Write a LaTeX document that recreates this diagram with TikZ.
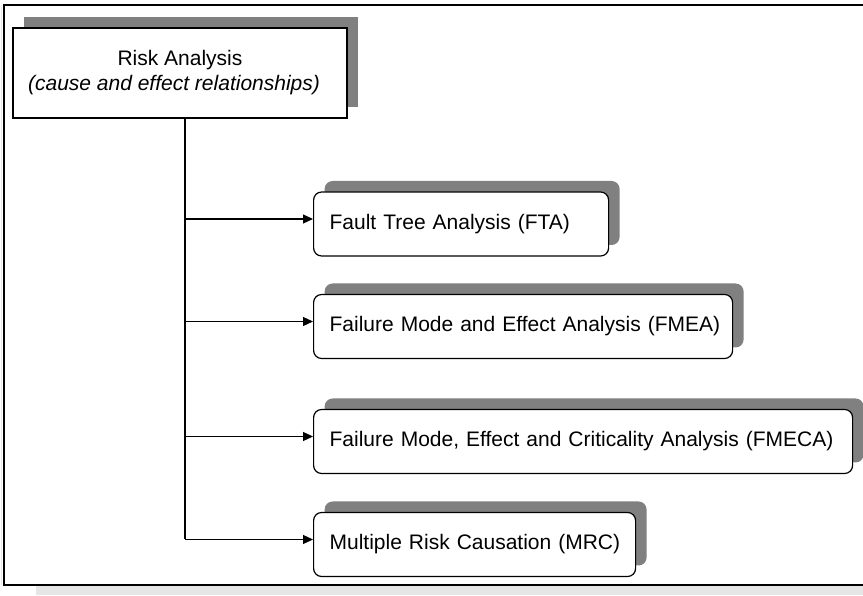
\documentclass[tikz,border=0pt]{standalone}
\usepackage{fontspec}
\setmainfont{Liberation Sans}
\usetikzlibrary{arrows.meta,shadows}
\definecolor{shadowgray}{HTML}{808080}
\definecolor{stripgray}{HTML}{E6E6E6}
\begin{document}
\begin{tikzpicture}[x=1pt,y=1pt,
  font=\fontsize{21}{25}\selectfont,
  boxshadow/.style={drop shadow={shadow xshift=11pt,shadow yshift=11pt,
      shadow scale=1,fill=shadowgray,opacity=1}},
  rootbox/.style={draw,line width=1.2pt,fill=white,minimum width=334pt,
      minimum height=90pt,align=center,inner sep=0pt,boxshadow},
  method/.style={draw,line width=1.2pt,fill=white,rounded corners=8pt,
      minimum height=64pt,anchor=west,inner xsep=16pt,inner ysep=0pt,
      align=left,boxshadow},
  link/.style={line width=1.2pt,-{Triangle[length=10pt,width=9pt]}},
  trunk/.style={line width=1.2pt}]
\useasboundingbox (0,0) rectangle (863,595);

% page frame and its soft edge
\fill[stripgray] (36,0) rectangle (863,9);
\draw[stripgray,line width=1pt] (1.5,590) -- (1.5,10);
\draw[line width=1.2pt] (863,590) -- (4,590) -- (4,10) -- (863,10);

% root box
\node[rootbox] (root) at (180,522)
  {Risk Analysis\\ \textit{(cause and effect relationships)}\hspace*{12pt}};

% analysis methods
\node[method,text width=263pt] (fta)   at (313,371)   {\mbox{Fault Tree Analysis (FTA)}};
\node[method,text width=387pt] (fmea)  at (313,268.5) {\mbox{Failure Mode and Effect Analysis (FMEA)}};
\node[method,text width=507pt] (fmeca) at (313,153.5) {\mbox{Failure Mode, Effect and Criticality Analysis (FMECA)}};
\node[method,text width=290pt] (mrc)   at (313,50.5)  {\mbox{Multiple Risk Causation (MRC)}};

% trunk and branches
\coordinate (tr) at (185,0);
\draw[trunk] (root.south -| tr) -- ([yshift=5pt]mrc.west -| tr);
\draw[link] ([yshift=5pt]fta.west -| tr)   -- ([yshift=5pt]fta.west);
\draw[link] ([yshift=5pt]fmea.west -| tr)  -- ([yshift=5pt]fmea.west);
\draw[link] ([yshift=5pt]fmeca.west -| tr) -- ([yshift=5pt]fmeca.west);
\draw[link] ([yshift=5pt]mrc.west -| tr)   -- ([yshift=5pt]mrc.west);
\end{tikzpicture}
\end{document}
